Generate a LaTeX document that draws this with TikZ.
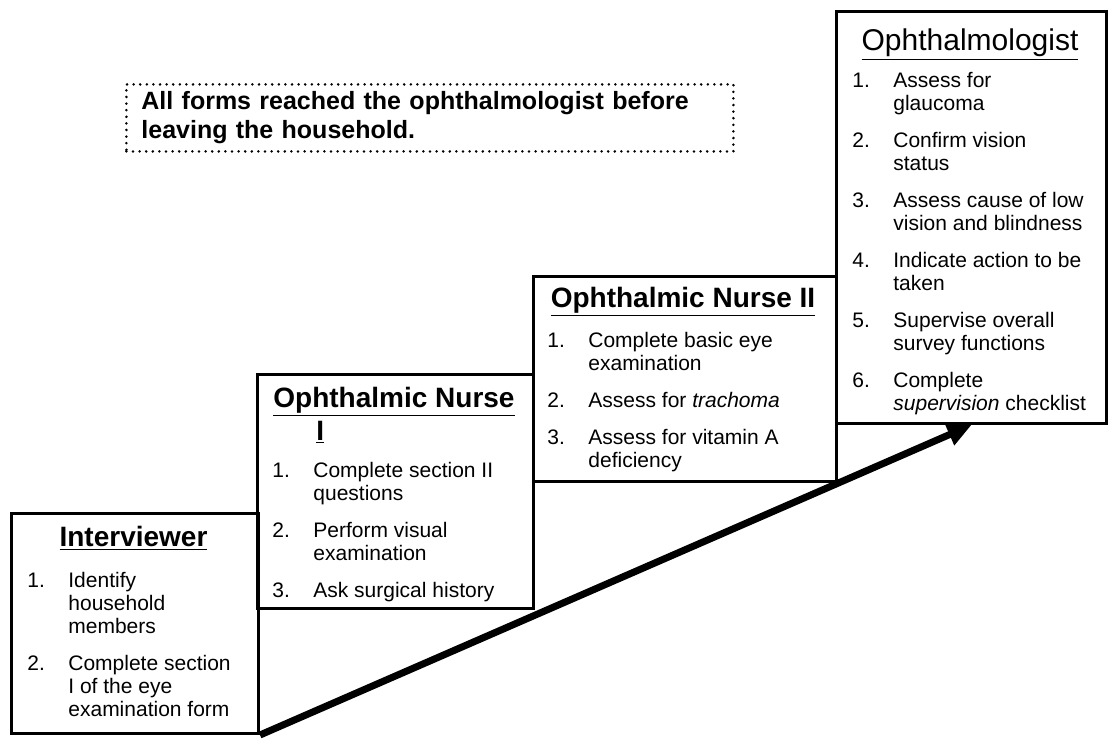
\documentclass[tikz,border=0pt]{standalone}
\usepackage{fontspec}
\setmainfont{Liberation Sans}
\usetikzlibrary{arrows.meta}

\begin{document}
\begin{tikzpicture}[x=0.5pt, y=-0.5pt,
  stage/.style={draw, line width=1.5pt, anchor=north west, inner sep=0pt},
  head/.style={font=\fontsize{14}{16}\selectfont\bfseries, anchor=base,
    inner sep=0pt},
  duties/.style={font=\fontsize{10.5}{11.5}\selectfont, anchor=base west,
    inner sep=0pt},
  note/.style={draw, line width=1.4pt, dash pattern=on 0pt off 3.3pt,
    line cap=round, anchor=north west, align=left, inner xsep=7.5pt,
    inner ysep=0pt, font=\fontsize{12.5}{14.5}\selectfont\bfseries},
  flow/.style={-{Triangle[length=12pt, width=11pt]}, line width=3.5pt}
]
\useasboundingbox (0,0) rectangle (1116,745);
% Note
\node[note, minimum width=303.5pt, minimum height=33.5pt, text width=288.5pt]
  (note) at (125,83)
  {All forms reached the ophthalmologist before\\leaving the household.};
% Stage boxes
\node[stage, minimum width=123.5pt, minimum height=110pt] (interviewer) at (10,512) {};
\node[stage, minimum width=138pt, minimum height=117pt] (nurseI) at (256,373) {};
\node[stage, minimum width=151.5pt, minimum height=102.5pt] (nurseII) at (532,275) {};
\node[stage, minimum width=135pt, minimum height=206pt] (ophth) at (835,10) {};
% Titles
\node[head] (interviewerhead) at (133.5,546) {\underline{Interviewer}};
\node[head] (nurseIhead) at (394,407) {\underline{Ophthalmic Nurse}};
\node[head, anchor=base west] (nurseIheadb) at (316,440) {\underline{I}};
\node[head] (nurseIIhead) at (683,307) {\underline{Ophthalmic Nurse II}};
\node[head, font=\fontsize{15}{17}\selectfont] (ophthhead) at (970,50)
  {\underline{Ophthalmologist}};
% Duties
\node[duties] (interviewerlist) at (27,587) {\begin{tabular}[t]{@{}p{20.5pt}@{}l@{}}
  1. & Identify\\ & household\\ & members\\[7pt]
  2. & Complete section\\ & I of the eye\\ & examination form
\end{tabular}};
\node[duties] (nurseIlist) at (272,477) {\begin{tabular}[t]{@{}p{20.5pt}@{}l@{}}
  1. & Complete section II\\ & questions\\[7pt]
  2. & Perform visual\\ & examination\\[7pt]
  3. & Ask surgical history
\end{tabular}};
\node[duties] (nurseIIlist) at (547,347) {\begin{tabular}[t]{@{}p{20.5pt}@{}l@{}}
  1. & Complete basic eye\\ & examination\\[7pt]
  2. & Assess for \textit{trachoma}\\[7pt]
  3. & Assess for vitamin A\\ & deficiency
\end{tabular}};
\node[duties] (ophthlist) at (852,87) {\begin{tabular}[t]{@{}p{20.5pt}@{}l@{}}
  1. & Assess for\\ & glaucoma\\[7pt]
  2. & Confirm vision\\ & status\\[7pt]
  3. & Assess cause of low\\ & vision and blindness\\[7pt]
  4. & Indicate action to be\\ & taken\\[7pt]
  5. & Supervise overall\\ & survey functions\\[7pt]
  6. & Complete\\ & \textit{supervision} checklist
\end{tabular}};
% Flow arrow
\draw[flow] (interviewer.south east) -- (ophth.south);
\end{tikzpicture}
\end{document}
